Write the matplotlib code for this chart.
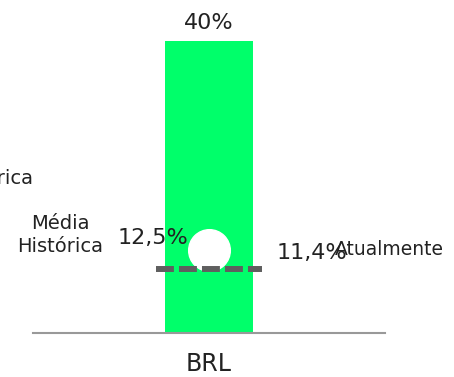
import matplotlib
matplotlib.use("Agg")
import matplotlib.pyplot as plt
import matplotlib.transforms as mtransforms

plt.rcParams["font.family"] = ["DejaVu Sans"]

moedas = ["BRL"]
valores = [40]
media_historica = [12.5]
atual = [11.4]

verde = "#00ff6a"
cinza = "#5f5f5f"
texto = "#222222"

fig = plt.figure(figsize=(4.54, 3.77), dpi=100)
ax = fig.add_axes([33 / 454, 44 / 377, 352 / 454, 292 / 377])

barras = ax.bar(moedas, valores, width=1.0, color=verde, zorder=1)
ax.set_xlim(-2, 2)
ax.set_ylim(0, 40)

# rótulo no topo da barra
for b, v in zip(barras, valores):
    ax.annotate(f"{v}%", (b.get_x() + b.get_width() / 2, v), xytext=(0, 6),
                textcoords="offset points", ha="center", va="bottom",
                fontsize=16, color=texto)

# ponto atual
ax.plot([0], atual, "o", color="white", markersize=30, zorder=2)

# linha tracejada da média histórica (desenhada um pouco abaixo)
desloc = mtransforms.offset_copy(ax.transData, fig=fig, x=0, y=-19.5, units="points")
ax.plot([-0.6, 0.6], [media_historica[0]] * 2, color=cinza, lw=4.3,
        dashes=(3.0, 0.85), transform=desloc, zorder=3, solid_capstyle="butt")

ax.text(-0.24, media_historica[0] + 0.5, f"{media_historica[0]:.1f}%".replace(".", ","),
        ha="right", va="center", fontsize=16, color=texto)
ax.text(0.77, atual[0] - 0.45, f"{atual[0]:.1f}%".replace(".", ","),
        ha="left", va="center", fontsize=16, color=texto)
ax.text(1.43, atual[0], "Atualmente", ha="left", va="center",
        fontsize=13.5, color=texto, clip_on=False)
ax.text(-1.69, 13.4, "Média\nHistórica", ha="center", va="center",
        fontsize=14, color=texto, linespacing=1.3)
ax.text(-2.0, 21.2, "Histórica", ha="right", va="center",
        fontsize=14, color=texto, clip_on=False)

ax.set_xticks([0])
ax.set_xticklabels(moedas, fontsize=17, color=texto)
ax.tick_params(axis="x", length=0, pad=14)
ax.set_yticks([])
for lado in ["top", "right", "left"]:
    ax.spines[lado].set_visible(False)
ax.spines["bottom"].set_color("#999999")
ax.spines["bottom"].set_linewidth(1.5)

fig.savefig("out.png", dpi=100)
